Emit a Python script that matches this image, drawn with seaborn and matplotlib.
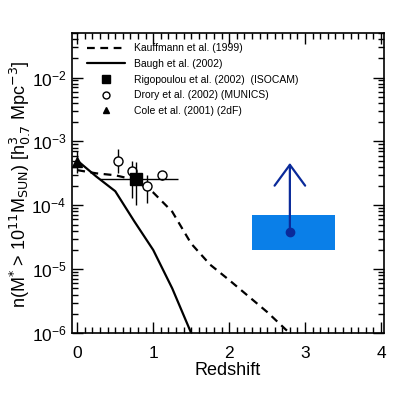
import matplotlib
matplotlib.use('Agg')
import matplotlib.pyplot as plt
import numpy as np
import pandas as pd
import seaborn as sns
from matplotlib.lines import Line2D
from matplotlib.legend_handler import HandlerLine2D
from matplotlib.ticker import MultipleLocator, LogLocator, NullFormatter

# model curves (log10 of number density)
kauff_z = [0.0, 0.25, 0.5, 0.75, 1.0, 1.25, 1.5, 1.75, 2.0, 2.25, 2.5, 2.75, 3.0]
kauff_logn = [-3.45, -3.5, -3.53, -3.6, -3.8, -4.1, -4.6, -4.93, -5.17, -5.42, -5.67, -5.95, -6.2]
baugh_z = [0.0, 0.25, 0.5, 0.75, 1.0, 1.25, 1.5, 1.75]
baugh_logn = [-3.3, -3.55, -3.78, -4.25, -4.7, -5.3, -6.0, -6.7]

# observations
rigo_z = [0.77]
rigo_n = [2.6e-4]
rigo_zlo, rigo_zhi = [0.3], [1.32]
rigo_nlo, rigo_nhi = [1.0e-4], [4.7e-4]

drory_z = [0.53, 0.72, 0.92, 1.12]
drory_n = [5.0e-4, 3.5e-4, 2.0e-4, 3.0e-4]
drory_nlo = [3.2e-4, 1.3e-4, 1.1e-4, 2.5e-4]
drory_nhi = [7.6e-4, 5.0e-4, 3.0e-4, 3.5e-4]

cole_z = [0.0]
cole_n = [4.7e-4]
cole_nlo, cole_nhi = [3.2e-4], [7.0e-4]

# high-z lower limit and box
box_z = [2.3, 3.4]
box_n = [2.0e-5, 7.0e-5]
lim_z = [2.8]
lim_n = [3.8e-5]
lim_top = [4.6e-4]


class RightMarker(HandlerLine2D):
    # put the legend marker at the right end of the handle, like the original
    def get_xdata(self, legend, xdescent, ydescent, width, height, fontsize):
        xdata, _ = super().get_xdata(legend, xdescent, ydescent, width, height, fontsize)
        return xdata, np.array([width - xdescent - 1.0])


sns.set_style('ticks', {'axes.edgecolor': 'black', 'xtick.color': 'black',
                        'ytick.color': 'black', 'text.color': 'black',
                        'axes.labelcolor': 'black'})
plt.rcParams['font.family'] = ['Liberation Sans', 'DejaVu Sans']
plt.rcParams['mathtext.fontset'] = 'custom'
plt.rcParams['mathtext.rm'] = 'Liberation Sans Narrow'
plt.rcParams['mathtext.it'] = 'Liberation Sans Narrow'

fig = plt.figure(figsize=(4, 3.96), dpi=100)
ax = fig.add_axes([0.18, 0.159, 0.78, 0.758])

kdf = pd.DataFrame({'z': kauff_z, 'n': 10 ** np.array(kauff_logn)})
bdf = pd.DataFrame({'z': baugh_z, 'n': 10 ** np.array(baugh_logn)})
sns.lineplot(data=kdf, x='z', y='n', ax=ax, color='black', lw=1.6,
             linestyle=(0, (3.5, 2.5)), legend=False)
sns.lineplot(data=bdf, x='z', y='n', ax=ax, color='black', lw=1.6, legend=False)

# blue box + lower limit arrow
ax.fill_between(box_z, box_n[0], box_n[1], color='#0a7fe8', lw=0, zorder=1)
ax.annotate('', xy=(lim_z[0], lim_top[0]), xytext=(lim_z[0], lim_n[0]),
            arrowprops=dict(arrowstyle='->,head_length=1.5,head_width=1.1',
                            color='#0a2a9a', lw=1.6, shrinkA=0, shrinkB=0))
ax.plot(lim_z, lim_n, 'o', color='#0a2a9a', ms=6)

# data points
ax.errorbar(drory_z, drory_n,
            yerr=[np.array(drory_n) - drory_nlo, np.array(drory_nhi) - drory_n],
            fmt='o', mfc='white', mec='black', ecolor='black', ms=6.5,
            mew=1.0, elinewidth=1.0, capsize=0, zorder=3)
ax.errorbar(rigo_z, rigo_n,
            xerr=[np.array(rigo_z) - rigo_zlo, np.array(rigo_zhi) - rigo_z],
            yerr=[np.array(rigo_n) - rigo_nlo, np.array(rigo_nhi) - rigo_n],
            fmt='s', color='black', ms=8, elinewidth=1.0, capsize=0, zorder=4)
ax.errorbar(cole_z, cole_n,
            yerr=[np.array(cole_n) - cole_nlo, np.array(cole_nhi) - cole_n],
            fmt='^', color='black', ms=6.5, elinewidth=1.0, capsize=0, zorder=4)

ax.set_yscale('log')
ax.set_xlim(-0.07, 4.04)
ax.set_ylim(1e-6, 0.05)
ax.xaxis.set_major_locator(MultipleLocator(1))
ax.xaxis.set_minor_locator(MultipleLocator(0.1))
ax.yaxis.set_major_locator(LogLocator(base=10, numticks=10))
ax.yaxis.set_minor_locator(LogLocator(base=10, subs=np.arange(2, 10), numticks=20))
ax.yaxis.set_minor_formatter(NullFormatter())
ax.tick_params(which='both', direction='in', top=True, right=True, width=1.0)
ax.tick_params(which='major', length=8, labelsize=12.5, pad=4)
ax.tick_params(axis='x', which='major', pad=9)
ax.tick_params(which='minor', length=4)
for s in ax.spines.values():
    s.set_linewidth(1.2)

ax.set_xlabel('Redshift', fontsize=13, labelpad=1)
ax.set_ylabel(r'n(M$^{*}$ > 10$^{11}$M$_{\rm SUN}$) [h$^{3}_{0.7}$ Mpc$^{-3}$]',
              fontsize=13, family=['Liberation Sans Narrow', 'Liberation Sans'])
ax.yaxis.set_label_coords(-0.125, 0.495)

handles = [
    Line2D([], [], color='black', lw=1.6, linestyle=(0, (3.5, 2.5))),
    Line2D([], [], color='black', lw=1.6),
    Line2D([], [], marker='s', color='black', ls='none', ms=6),
    Line2D([], [], marker='o', mfc='white', mec='black', ls='none', ms=5),
    Line2D([], [], marker='^', color='black', ls='none', ms=5),
]
labels = ['Kauffmann et al. (1999)', 'Baugh et al. (2002)',
          'Rigopoulou et al. (2002)  (ISOCAM)', 'Drory et al. (2002) (MUNICS)',
          'Cole et al. (2001) (2dF)']
ax.legend(handles, labels, loc='upper left', frameon=False, fontsize=7.5,
          handlelength=3.6, handletextpad=0.9, labelspacing=0.55,
          borderaxespad=0.3, bbox_to_anchor=(0.025, 0.99),
          handler_map={Line2D: RightMarker(numpoints=1)})

fig.savefig('out.png', dpi=100)
